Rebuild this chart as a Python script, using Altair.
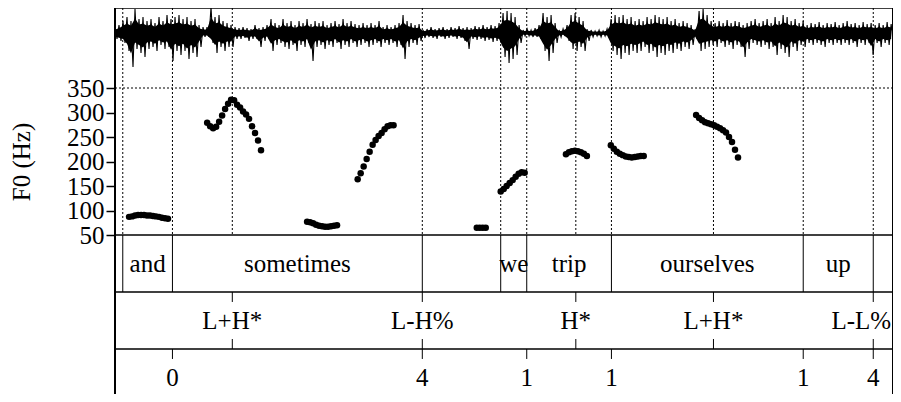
import altair as alt
import pandas as pd

# ---------------- data ----------------
T_END = 2.60  # seconds shown

# word tier
word_labels = ["", "and", "sometimes", "", "we", "trip", "ourselves", "up", ""]
word_bounds = [0.0, 0.026, 0.192, 1.027, 1.289, 1.376, 1.659, 2.300, 2.534, 2.600]

# tone tier
tone_times = [0.392, 1.027, 1.540, 2.000, 2.534]
tone_labels = ["L+H*", "L-H%", "H*", "L+H*", "L-L%"]

# break-index tier
break_times = [0.192, 1.027, 1.376, 1.659, 2.300, 2.534]
break_labels = ["0", "4", "1", "1", "1", "4"]

# F0 track: segments of pitch points every 10 ms
F0_STEP = 0.01
f0_starts = [0.047, 0.308, 0.642, 0.811, 1.209, 1.289, 1.507, 1.657, 1.942]
f0_segments = [
    [87, 88, 90, 91, 91, 91, 90, 90, 89, 88, 87, 85, 84, 83],
    [279, 272, 268, 271, 281, 294, 307, 318, 326, 325, 316, 310, 302, 296, 287, 272, 258, 243, 223],
    [77, 76, 74, 71, 69, 68, 67, 67, 68, 69, 70],
    [164, 176, 190, 205, 220, 234, 244, 252, 258, 266, 272, 274, 274],
    [65, 65, 65, 65],
    [139, 144, 150, 156, 162, 169, 175, 178, 177],
    [215, 219, 221, 222, 221, 219, 216, 211],
    [233, 226, 220, 216, 213, 210, 209, 208, 209, 210, 211, 211],
    [295, 289, 284, 280, 278, 276, 274, 271, 268, 264, 259, 250, 240, 224, 208],
]

# waveform envelope (upper / lower excursion), one value per frame
WAVE_STEP = 0.01337
wave_upper = [
    6, 8, 12, 16, 12, 24, 14, 16, 12, 14,
    10, 16, 12, 18, 14, 16, 18, 14, 16, 12,
    14, 8, 6, 6, 26, 16, 18, 12, 10, 8,
    6, 5, 6, 5, 4, 8, 5, 6, 8, 14,
    10, 8, 14, 10, 12, 8, 12, 10, 14, 9,
    12, 10, 12, 8, 10, 12, 9, 14, 10, 12,
    9, 8, 10, 8, 10, 8, 12, 6, 8, 6,
    8, 10, 18, 12, 10, 8, 9, 3, 4, 6,
    4, 5, 6, 4, 6, 5, 7, 5, 6, 5,
    7, 6, 8, 6, 8, 7, 10, 20, 22, 20,
    16, 8, 3, 4, 3, 5, 8, 20, 16, 18,
    10, 3, 4, 8, 18, 20, 16, 12, 4, 3,
    2, 3, 2, 4, 14, 18, 16, 18, 14, 16,
    12, 14, 12, 16, 14, 18, 16, 14, 16, 12,
    14, 10, 12, 10, 8, 4, 22, 24, 18, 12,
    10, 12, 10, 13, 10, 12, 11, 8, 10, 12,
    14, 10, 12, 14, 10, 16, 12, 18, 16, 12,
    14, 10, 12, 8, 10, 9, 11, 8, 10, 9,
    11, 8, 10, 12, 9, 10, 8, 11, 9, 10,
    8, 10, 8, 11, 9,
]
wave_lower = [
    6, 8, 10, 18, 34, 16, 20, 24, 16, 14,
    18, 12, 16, 14, 28, 18, 22, 18, 26, 20,
    24, 14, 4, 4, 10, 20, 14, 18, 14, 14,
    6, 6, 5, 8, 6, 6, 14, 8, 6, 18,
    12, 10, 14, 16, 12, 18, 12, 14, 10, 28,
    14, 12, 16, 12, 14, 10, 16, 12, 14, 10,
    14, 12, 10, 14, 12, 10, 14, 10, 12, 10,
    14, 12, 26, 14, 10, 12, 8, 5, 4, 5,
    6, 4, 6, 5, 4, 6, 5, 8, 16, 6,
    7, 6, 8, 7, 9, 8, 10, 24, 30, 26,
    22, 10, 3, 3, 4, 4, 6, 18, 28, 20,
    10, 4, 3, 8, 16, 18, 14, 18, 8, 4,
    3, 4, 3, 4, 18, 22, 26, 20, 22, 18,
    20, 18, 14, 20, 18, 24, 20, 22, 18, 20,
    16, 18, 14, 16, 12, 6, 18, 16, 14, 12,
    14, 10, 14, 12, 16, 12, 14, 24, 16, 10,
    12, 14, 12, 16, 14, 22, 16, 20, 24, 14,
    18, 12, 14, 10, 12, 10, 12, 14, 10, 12,
    10, 12, 10, 12, 10, 14, 10, 12, 10, 22,
    10, 14, 10, 12, 10,
]

# ---------------- tables built from the arrays ----------------
CORE = 0.6  # share of the excursion drawn as the solid core of the trace
n_w = min(len(wave_upper), len(wave_lower))
wave_rows, core_rows = [], []
for i in range(n_w):
    wave_rows.append({"t": i * WAVE_STEP, "a": wave_upper[i]})
    wave_rows.append({"t": (i + 0.5) * WAVE_STEP, "a": -wave_lower[i]})
    core_rows.append({"t": i * WAVE_STEP, "hi": CORE * wave_upper[i],
                      "lo": -CORE * wave_lower[i]})
wave_df = pd.DataFrame(wave_rows)
core_df = pd.DataFrame(core_rows)

f0_rows = []
for start, vals in zip(f0_starts, f0_segments):
    for k, v in enumerate(vals):
        f0_rows.append({"t": start + k * F0_STEP, "f0": v})
f0_df = pd.DataFrame(f0_rows)

words_df = pd.DataFrame({
    "start": word_bounds[:-1], "end": word_bounds[1:], "label": word_labels,
})
words_df = words_df[words_df["label"] != ""]
inner_bounds = word_bounds[1:-1]
vlines_df = pd.DataFrame({"t": sorted(set(inner_bounds + tone_times))})
wb_df = pd.DataFrame({"t": inner_bounds})
tones_df = pd.DataFrame({"t": tone_times, "label": tone_labels})
tones_main = tones_df.iloc[:-1]
tones_last = tones_df.iloc[-1:]
breaks_df = pd.DataFrame({"t": break_times, "label": break_labels})

# tier layout units: 0 top, 1 bottom of F0 area, 2 words, 3 tones, 4 breaks
TICK = 0.175
tone_ticks = pd.DataFrame(
    [{"t": t, "a": 2, "b": 2 + TICK} for t in tone_times]
    + [{"t": t, "a": 3 - TICK, "b": 3} for t in tone_times])
break_ticks = pd.DataFrame(
    [{"t": t, "a": 3, "b": 3 + TICK} for t in break_times]
    + [{"t": t, "a": 4 - TICK, "b": 4} for t in break_times])
hlines_df = pd.DataFrame({"y": [0, 1, 2, 3]})
frame_df = pd.DataFrame({"t": [0.0, T_END]})

# ---------------- scales ----------------
FONT = "Liberation Serif"
FS = 25
x_scale = alt.Scale(domain=[0, T_END], nice=False, zero=False)
f0_scale = alt.Scale(domain=[50, 350], range=[227, 80], nice=False, zero=False)
wave_scale = alt.Scale(domain=[-30, 30], range=[55, -5], nice=False, zero=False)
tier_scale = alt.Scale(domain=[0, 1, 2, 3, 4], range=[0, 227, 284, 341, 398],
                       nice=False, zero=False)

X = lambda f="t": alt.X(f"{f}:Q", scale=x_scale, axis=None)

wave_core = alt.Chart(core_df).mark_area(color="black", clip=True).encode(
    x=X(), y=alt.Y("hi:Q", scale=wave_scale, axis=None), y2="lo:Q")
wave = alt.Chart(wave_df).mark_line(color="black", strokeWidth=1.1, clip=True).encode(
    x=X(), y=alt.Y("a:Q", scale=wave_scale, axis=None))

vlines = alt.Chart(vlines_df).mark_rule(
    color="black", strokeWidth=1, strokeDash=[2, 2]
).transform_calculate(a="0", b="1").encode(
    x=X(), y=alt.Y("a:Q", scale=tier_scale, axis=None), y2="b:Q")

hz350 = alt.Chart(pd.DataFrame({"f0": [350]})).mark_rule(
    color="black", strokeWidth=1, strokeDash=[2, 2]
).encode(y=alt.Y("f0:Q", scale=f0_scale, axis=None))

f0_axis = alt.Axis(
    values=[50, 100, 150, 200, 250, 300, 350], title="F0 (Hz)", domain=False,
    grid=False, ticks=True, tickSize=9, tickWidth=1.5, tickColor="black",
    labelPadding=2, labelFont=FONT, labelFontSize=FS, labelColor="black",
    labelFlush=False, labelOverlap=False, labelBound=False,
    titleFont=FONT, titleFontSize=FS, titleFontWeight="normal",
    titleColor="black", titlePadding=32)

points = alt.Chart(f0_df).mark_circle(color="black", opacity=1, size=42).encode(
    x=X(), y=alt.Y("f0:Q", scale=f0_scale, axis=f0_axis))

hlines = alt.Chart(hlines_df).mark_rule(color="black", strokeWidth=1.5).encode(
    y=alt.Y("y:Q", scale=tier_scale, axis=None))

frame = alt.Chart(frame_df).mark_rule(color="black", strokeWidth=2).encode(x=X())

wblines = alt.Chart(wb_df).mark_rule(color="black", strokeWidth=1).transform_calculate(
    a="1", b="2").encode(x=X(), y=alt.Y("a:Q", scale=tier_scale, axis=None), y2="b:Q")

tticks = alt.Chart(tone_ticks).mark_rule(color="black", strokeWidth=1).encode(
    x=X(), y=alt.Y("a:Q", scale=tier_scale, axis=None), y2="b:Q")
bticks = alt.Chart(break_ticks).mark_rule(color="black", strokeWidth=1).encode(
    x=X(), y=alt.Y("a:Q", scale=tier_scale, axis=None), y2="b:Q")

text_kw = dict(font=FONT, fontSize=FS, color="black", align="center", baseline="middle")

word_text = alt.Chart(words_df).mark_text(**text_kw).transform_calculate(
    mid="(datum.start + datum.end) / 2", yy="1.5").encode(
    x=X("mid"), y=alt.Y("yy:Q", scale=tier_scale, axis=None), text="label:N")
tone_text = alt.Chart(tones_main).mark_text(**text_kw).transform_calculate(yy="2.5").encode(
    x=X(), y=alt.Y("yy:Q", scale=tier_scale, axis=None), text="label:N")
# last tone label sits on the right edge: nudge it in so it is not cut off
tone_text_last = alt.Chart(tones_last).mark_text(dx=-12, **text_kw).transform_calculate(
    yy="2.5").encode(
    x=X(), y=alt.Y("yy:Q", scale=tier_scale, axis=None), text="label:N")
break_text = alt.Chart(breaks_df).mark_text(**text_kw).transform_calculate(yy="3.5").encode(
    x=X(), y=alt.Y("yy:Q", scale=tier_scale, axis=None), text="label:N")

chart = alt.layer(
    wave_core, wave, vlines, hz350, hlines, wblines, tticks, bticks,
    word_text, tone_text, tone_text_last, break_text, points, frame,
).resolve_scale(y="independent").properties(
    width=778, height=386,
    autosize=alt.AutoSizeParams(type="none"),
    padding={"left": 107, "top": 0, "right": 0, "bottom": 0},
).configure_view(stroke=None, fill="white")

chart.save("out.html", embed_options={"renderer": "svg", "actions": False})
